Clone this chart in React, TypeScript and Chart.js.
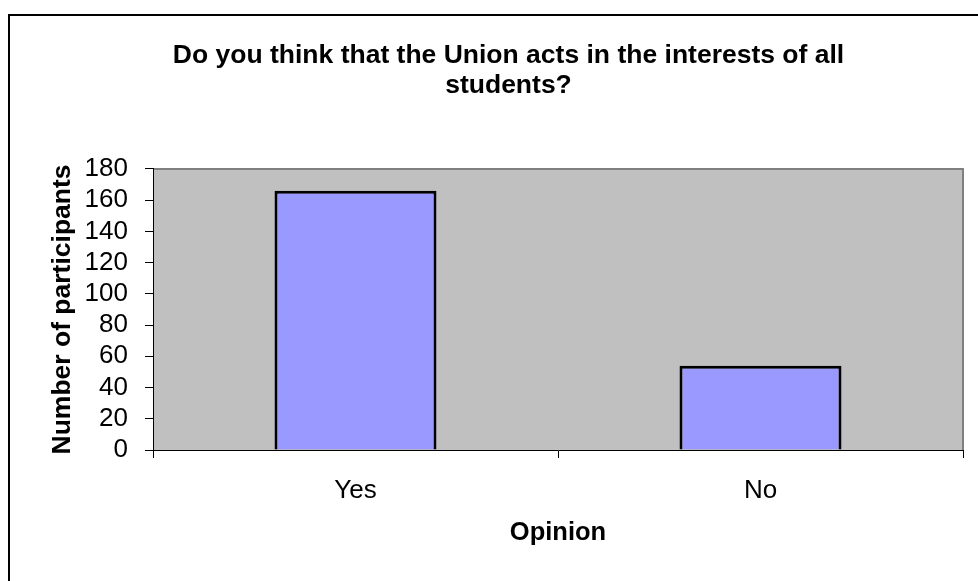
import React, { useEffect, useRef } from "react";
import { Chart, registerables } from "chart.js";

Chart.register(...registerables);

const chartTitle = ["Do you think that the Union acts in the interests of all", "students?"];
const categories = ["Yes", "No"];
const participants = [166, 54];
const yMin = 0;
const yMax = 180;
const yStep = 20;
const xAxisTitle = "Opinion";
const yAxisTitle = "Number of participants";

const W = 978;
const H = 581;
const FONT = "Arial, 'Liberation Sans', sans-serif";

const framePlugin = {
  id: "frame",
  beforeDraw(chart: any) {
    const ctx = chart.ctx;
    ctx.save();
    ctx.fillStyle = "#ffffff";
    ctx.fillRect(0, 0, chart.width, chart.height);
    ctx.strokeStyle = "#000000";
    ctx.lineWidth = 2;
    ctx.beginPath();
    ctx.moveTo(9, chart.height + 5);
    ctx.lineTo(9, 15);
    ctx.lineTo(chart.width + 5, 15);
    ctx.stroke();
    const a = chart.chartArea;
    ctx.fillStyle = "#C0C0C0";
    ctx.fillRect(a.left, a.top, a.right - a.left, a.bottom - a.top);
    ctx.strokeStyle = "#808080";
    ctx.lineWidth = 2;
    ctx.beginPath();
    ctx.moveTo(a.left, a.top);
    ctx.lineTo(a.right, a.top);
    ctx.lineTo(a.right, a.bottom);
    ctx.stroke();
    ctx.restore();
  },
};

export default function App() {
  const ref = useRef<HTMLCanvasElement>(null);
  useEffect(() => {
    if (!ref.current) return;
    const chart = new Chart(ref.current, {
      type: "bar",
      data: {
        labels: categories,
        datasets: [
          {
            data: participants,
            backgroundColor: "#9999FF",
            borderColor: "#000000",
            borderWidth: 3,
            barPercentage: 0.4,
            categoryPercentage: 1,
          },
        ],
      },
      options: {
        responsive: false,
        animation: false,
        layout: { padding: { left: 54, right: 15, top: 0, bottom: 0 } },
        plugins: {
          legend: { display: false },
          tooltip: { enabled: false },
          title: {
            display: true,
            text: chartTitle,
            color: "#000000",
            font: { family: FONT, size: 26.5, weight: "bold", lineHeight: 1.12 },
            padding: { top: 41, bottom: 68.6 },
          },
        },
        scales: {
          x: {
            grid: {
              offset: true,
              drawOnChartArea: false,
              drawTicks: true,
              tickLength: 8,
              color: "#000000",
            },
            border: { display: true, color: "#000000", width: 1 },
            ticks: {
              color: "#000000",
              padding: 17,
              font: { family: FONT, size: 26 },
            },
            title: {
              display: true,
              text: xAxisTitle,
              color: "#000000",
              font: { family: FONT, size: 25.5, weight: "bold" },
              padding: { top: 0, bottom: 33 },
            },
            afterFit(scale: any) {
              scale.height = H - 450;
            },
          },
          y: {
            min: yMin,
            max: yMax,
            grid: {
              drawOnChartArea: false,
              drawTicks: true,
              tickLength: 8,
              color: "#000000",
            },
            border: { display: true, color: "#000000", width: 1 },
            ticks: {
              stepSize: yStep,
              autoSkip: false,
              color: "#000000",
              padding: 17,
              font: { family: FONT, size: 26 },
            },
            title: {
              display: true,
              text: yAxisTitle,
              color: "#000000",
              font: { family: FONT, size: 26.5, weight: "bold" },
              padding: { top: -7, bottom: 0 },
            },
            afterFit(scale: any) {
              scale.width = 153 - 54;
            },
          },
        },
      },
      plugins: [framePlugin],
    } as any);
    return () => chart.destroy();
  }, []);
  return (
    <div style={{ position: "fixed", left: 0, top: 0, width: W, height: H, background: "#fff" }}>
      <canvas ref={ref} width={W} height={H} style={{ display: "block", width: W, height: H }} />
    </div>
  );
}
